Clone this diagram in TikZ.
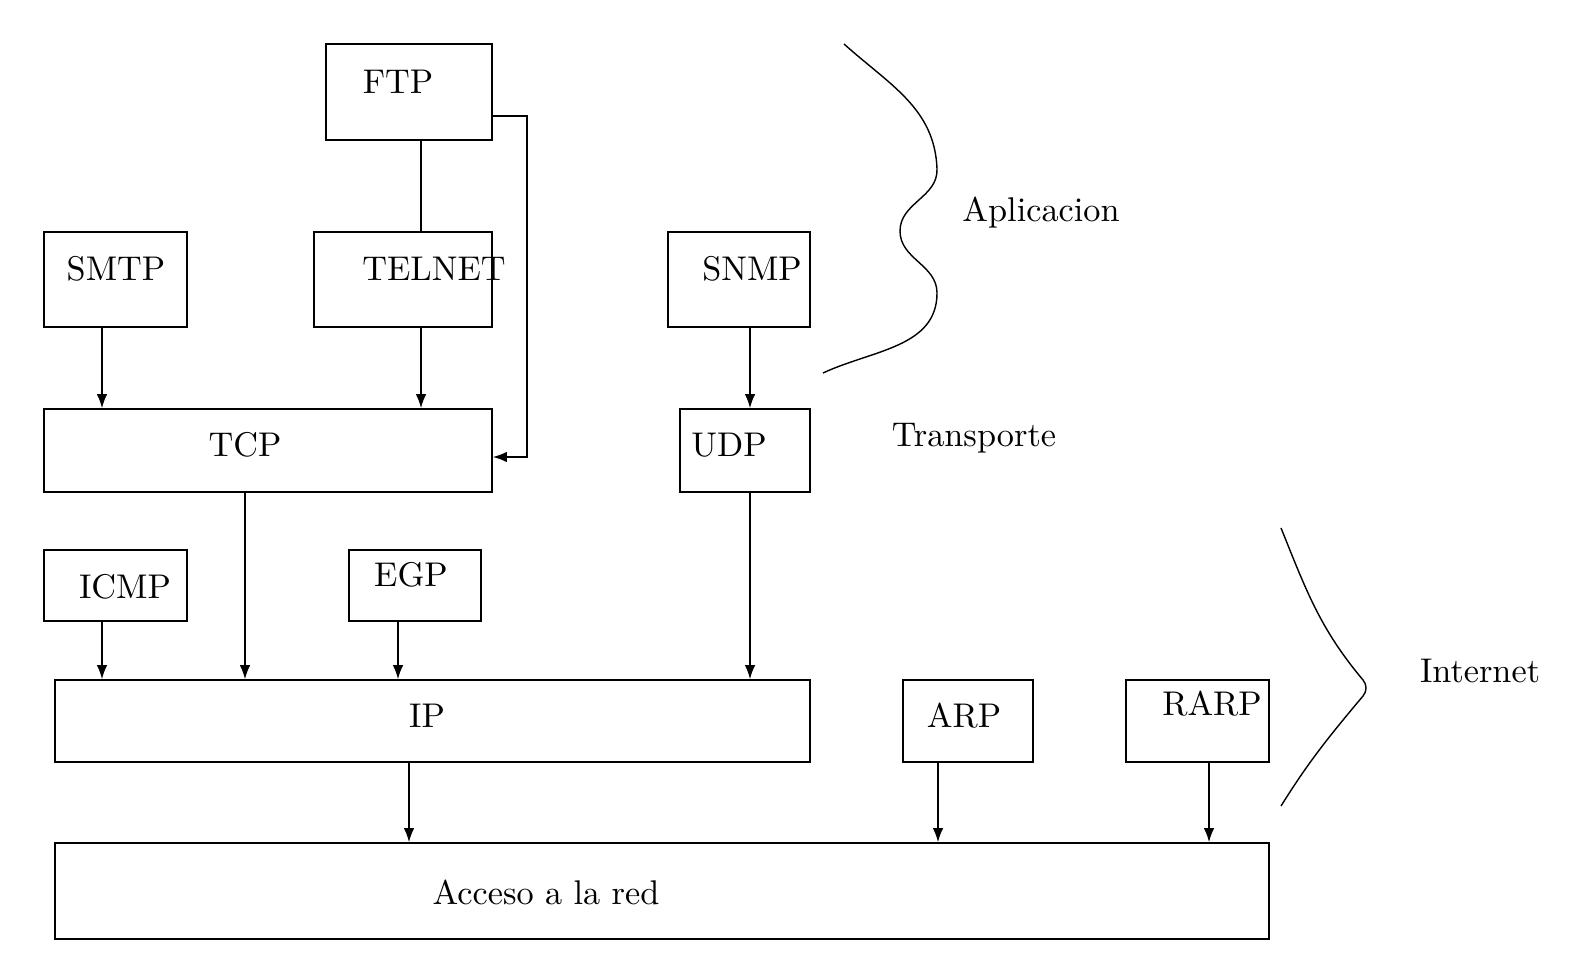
\documentclass[tikz,border=0pt]{standalone}
\usepackage{tikz}
\usetikzlibrary{arrows.meta}

\begin{document}
\begin{tikzpicture}[>={Latex[length=4pt,width=3pt]}, line width=0.45pt,
    font=\fontsize{9.75pt}{12pt}\selectfont,
    caja/.style={draw, rectangle, inner sep=0pt},
    capa/.style={draw=none, inner sep=0pt}]

\useasboundingbox (0,0) rectangle (15.74,9.64);

% ═══════════════════════════════════════════════════════
% CAJAS (protocolos)
% ═══════════════════════════════════════════════════════

% Aplicacion
\node[caja, minimum width=1.66cm, minimum height=0.96cm] (ftp)    at (4.09,8.72)  {};
\node[caja, minimum width=1.43cm, minimum height=0.95cm] (smtp)   at (1.155,6.845) {};
\node[caja, minimum width=1.78cm, minimum height=0.95cm] (telnet) at (4.03,6.845) {};
\node[caja, minimum width=1.42cm, minimum height=0.95cm] (snmp)   at (7.39,6.845) {};

% Transporte
\node[caja, minimum width=4.48cm, minimum height=0.83cm] (tcp) at (2.68,5.135) {};
\node[caja, minimum width=1.30cm, minimum height=0.83cm] (udp) at (7.45,5.135) {};

% Internet
\node[caja, minimum width=1.43cm, minimum height=0.71cm] (icmp) at (1.155,3.785) {};
\node[caja, minimum width=1.32cm, minimum height=0.71cm] (egp)  at (4.15,3.785)  {};
\node[caja, minimum width=7.55cm, minimum height=0.82cm] (ip)   at (4.325,2.43)  {};
\node[caja, minimum width=1.30cm, minimum height=0.82cm] (arp)  at (9.68,2.43)   {};
\node[caja, minimum width=1.43cm, minimum height=0.82cm] (rarp) at (11.975,2.43) {};

% Acceso a la red
\node[caja, minimum width=12.14cm, minimum height=0.96cm] (red) at (6.62,0.73) {};

% ═══════════════════════════════════════════════════════
% TEXTOS
% ═══════════════════════════════════════════════════════

\node[capa] (ftp-t)    at (3.98,8.82)  {FTP};
\node[capa] (smtp-t)   at (1.16,6.95)  {SMTP};
\node[capa] (telnet-t) at (4.34,6.95)  {TELNET};
\node[capa] (snmp-t)   at (7.52,6.95)  {SNMP};
\node[capa] (tcp-t)    at (2.45,5.19)  {TCP};
\node[capa] (udp-t)    at (7.29,5.19)  {UDP};
\node[capa] (icmp-t)   at (1.25,3.77)  {ICMP};
\node[capa] (egp-t)    at (4.11,3.89)  {EGP};
\node[capa] (ip-t)     at (4.27,2.48)  {IP};
\node[capa] (arp-t)    at (9.64,2.48)  {ARP};
\node[capa] (rarp-t)   at (12.12,2.60) {RARP};
\node[capa] (red-t)    at (5.46,0.72)  {Acceso a la red};

% ═══════════════════════════════════════════════════════
% COLUMNAS DE LAS FLECHAS
% ═══════════════════════════════════════════════════════

\coordinate (xa) at (1.02,0);
\coordinate (xb) at (4.21,0);
\coordinate (xc) at (7.50,0);
\coordinate (xd) at (2.45,0);
\coordinate (xe) at (3.98,0);
\coordinate (xf) at (4.09,0);
\coordinate (xg) at (9.38,0);
\coordinate (xh) at (12.09,0);
\coordinate (ftp-e) at (5.27,8.48);
\coordinate (tcp-e) at (5.27,5.07);

% ═══════════════════════════════════════════════════════
% CONEXIONES
% ═══════════════════════════════════════════════════════

% FTP -> TELNET (sin flecha) y FTP -> TCP por la derecha
\draw (ftp.south -| xb) -- (telnet.north -| xb);
\draw[->] (ftp.east |- ftp-e) -- (ftp-e) -- (tcp-e) -- (tcp.east |- tcp-e);

% Aplicacion -> Transporte
\draw[->] (smtp.south -| xa)   -- (tcp.north -| xa);
\draw[->] (telnet.south -| xb) -- (tcp.north -| xb);
\draw[->] (snmp.south -| xc)   -- (udp.north -| xc);

% Transporte e Internet -> IP
\draw[->] (icmp.south -| xa) -- (ip.north -| xa);
\draw[->] (tcp.south -| xd)  -- (ip.north -| xd);
\draw[->] (egp.south -| xe)  -- (ip.north -| xe);
\draw[->] (udp.south -| xc)  -- (ip.north -| xc);

% -> Acceso a la red
\draw[->] (ip.south -| xf)   -- (red.north -| xf);
\draw[->] (arp.south -| xg)  -- (red.north -| xg);
\draw[->] (rarp.south -| xh) -- (red.north -| xh);

% ═══════════════════════════════════════════════════════
% LLAVES Y NOMBRES DE CAPA
% ═══════════════════════════════════════════════════════

\draw[line width=0.4pt]
    (8.44,9.20) to[out=-42, in=92] (9.37,7.95)
    to[out=-88, in=90] (9.00,7.33)
    to[out=-90, in=90] (9.37,6.71)
    to[out=-90, in=25] (8.23,5.91);
\node[capa] (aplic) at (10.41,7.51) {Aplicacion};

\node[capa] (transp) at (9.74,5.26) {Transporte};

\draw[line width=0.4pt]
    (12.81,4.36) to[out=-68, in=130] (13.63,2.84)
    to[out=-50, in=50] (13.63,2.68)
    to[out=-130, in=58] (12.81,1.58);
\node[capa] (inet) at (14.80,2.93) {Internet};

\end{tikzpicture}
\end{document}
